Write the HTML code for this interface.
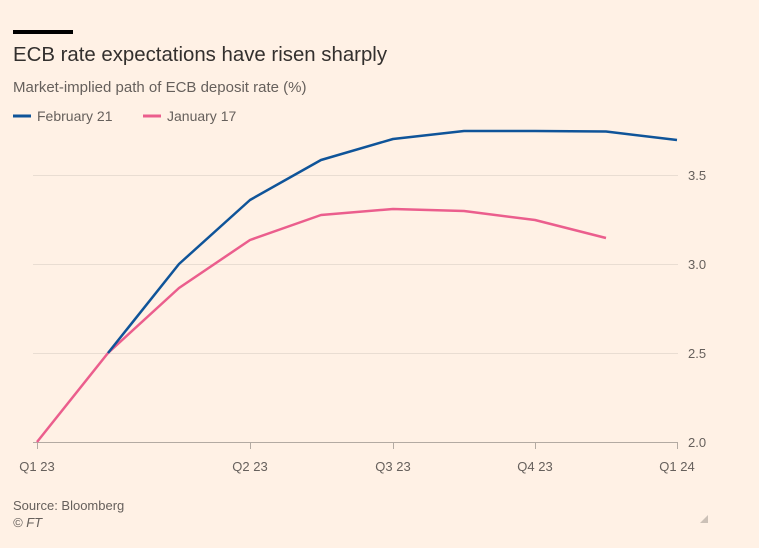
<!DOCTYPE html>
<html><head><meta charset="utf-8"><style>
body{margin:0;background:#fff1e5;width:759px;height:548px;overflow:hidden;font-family:"Liberation Sans",sans-serif;}
</style></head><body>
<svg width="759" height="548" viewBox="0 0 759 548" xmlns="http://www.w3.org/2000/svg" style="position:absolute;left:0;top:0">
<rect width="759" height="548" fill="#fff1e5"/>
<rect x="13" y="30" width="60" height="4" fill="#000"/>
<text x="13" y="61" font-size="20.4" fill="#33302e">ECB rate expectations have risen sharply</text>
<text x="13" y="92" font-size="15" fill="#66605c">Market-implied path of ECB deposit rate (%)</text>
<line x1="13" y1="116" x2="31" y2="116" stroke="#0f5499" stroke-width="3"/>
<text x="37" y="121" font-size="14" fill="#66605c">February 21</text>
<line x1="143" y1="116" x2="161" y2="116" stroke="#eb5e8d" stroke-width="3"/>
<text x="167" y="121" font-size="14" fill="#66605c">January 17</text>
<g stroke="#e9ddd2" stroke-width="1">
<line x1="33" y1="175.5" x2="678" y2="175.5"/>
<line x1="33" y1="264.5" x2="678" y2="264.5"/>
<line x1="33" y1="353.5" x2="678" y2="353.5"/>
</g>
<line x1="33" y1="442.5" x2="678" y2="442.5" stroke="#b3aaa2" stroke-width="1"/>
<g stroke="#b3aaa2" stroke-width="1">
<line x1="37.5" y1="442" x2="37.5" y2="449"/>
<line x1="250.5" y1="442" x2="250.5" y2="449"/>
<line x1="393.5" y1="442" x2="393.5" y2="449"/>
<line x1="535.5" y1="442" x2="535.5" y2="449"/>
<line x1="677.5" y1="442" x2="677.5" y2="449"/>
</g>
<g font-size="13" fill="#66605c">
<text x="688" y="180">3.5</text>
<text x="688" y="269">3.0</text>
<text x="688" y="358">2.5</text>
<text x="688" y="447">2.0</text>
<text x="37" y="471" text-anchor="middle">Q1 23</text>
<text x="250" y="471" text-anchor="middle">Q2 23</text>
<text x="393" y="471" text-anchor="middle">Q3 23</text>
<text x="535" y="471" text-anchor="middle">Q4 23</text>
<text x="677" y="471" text-anchor="middle">Q1 24</text>
</g>
<polyline fill="none" stroke="#eb5e8d" stroke-width="2.5" stroke-linejoin="round" points="37,442 108,353 179,288 250,240 321,215 393,209 464,211 535,220 606,238"/>
<polyline fill="none" stroke="#0f5499" stroke-width="2.5" stroke-linejoin="round" points="108,353 179,264 250,200 321,160 393,139 464,131 535,131 606,131.5 677,140"/>
<text x="13" y="510" font-size="13" fill="#66605c">Source: Bloomberg</text>
<text x="13" y="527" font-size="13" font-style="italic" fill="#66605c">© FT</text>
<polygon points="708,515 708,523 700,523" fill="#ccc1b7"/>
</svg>
</body></html>
